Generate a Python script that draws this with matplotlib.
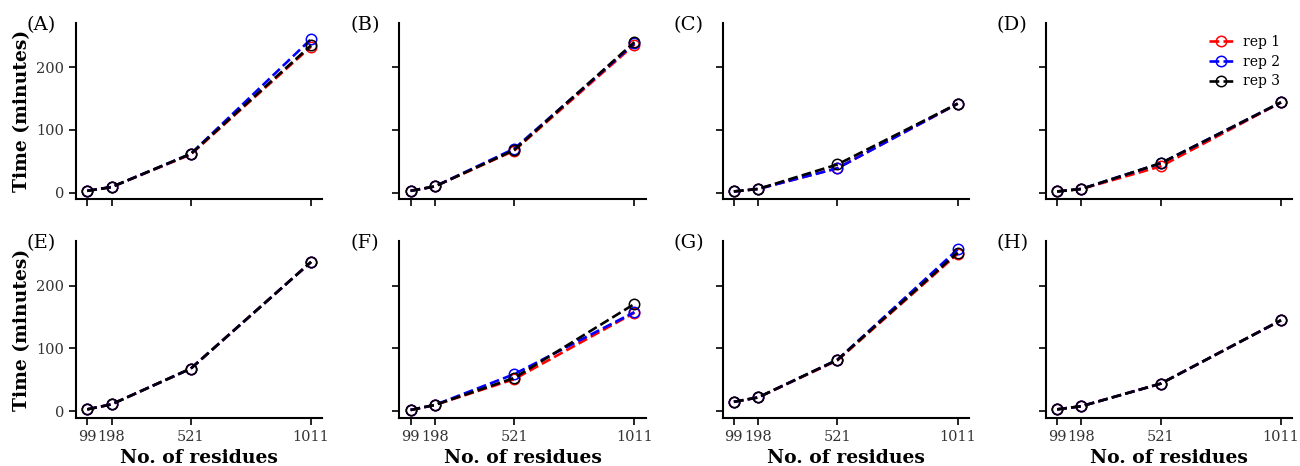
#!/usr/bin/env python3

import numpy as np
import matplotlib
matplotlib.use('Agg')
import matplotlib.pyplot as plt

# number of residues for each system
residues = [99, 198, 521, 1011]
tick_labels = ['99', '198', '521', '1011']

panels = ['(A)', '(B)', '(C)', '(D)', '(E)', '(F)', '(G)', '(H)']

# wall time in minutes, one list per panel, one row per replicate
rep1 = [
    [3, 9, 61, 233],
    [3, 10, 67, 236],
    [2, 6, 39, 142],
    [2, 6, 42, 144],
    [3, 11, 68, 238],
    [2, 10, 51, 157],
    [15, 22, 81, 251],
    [3, 8, 44, 145],
]
rep2 = [
    [3, 9, 62, 245],
    [3, 10, 70, 238],
    [2, 6, 39, 142],
    [2, 6, 47, 144],
    [3, 11, 68, 238],
    [2, 10, 59, 158],
    [15, 22, 82, 258],
    [3, 8, 44, 145],
]
rep3 = [
    [3, 9, 62, 235],
    [3, 10, 68, 240],
    [2, 6, 45, 142],
    [2, 6, 47, 144],
    [3, 11, 68, 238],
    [2, 10, 53, 171],
    [15, 22, 82, 253],
    [3, 8, 44, 145],
]

rep_names = ['rep 1', 'rep 2', 'rep 3']
rep_colors = ['red', 'blue', 'black']


def main():
    plt.rcParams['font.family'] = 'DejaVu Serif'
    fig, axes = plt.subplots(2, 4, figsize=(13, 4.66), dpi=100,
                             sharex=True, sharey=True)
    fig.subplots_adjust(left=0.0585, right=0.994, top=0.951, bottom=0.103,
                        wspace=0.313, hspace=0.237)

    for i, ax in enumerate(axes.flat):
        for reps, name, col in zip([rep1, rep2, rep3], rep_names, rep_colors):
            ax.plot(residues, reps[i], '--o', color=col, mfc='none',
                    markersize=7.5, markeredgewidth=1.1, linewidth=1.9,
                    label=name)

        ax.spines['top'].set_visible(False)
        ax.spines['right'].set_visible(False)
        ax.spines['left'].set_linewidth(1.5)
        ax.spines['bottom'].set_linewidth(1.5)
        ax.tick_params(width=1.2, length=5, labelsize=10.5, labelcolor='#333333')
        ax.set_xticks(residues)
        ax.set_xticklabels(tick_labels)
        ax.set_yticks([0, 100, 200])
        ax.text(-0.2, 0.99, panels[i], transform=ax.transAxes,
                fontsize=14, ha='left', va='center')

    for ax in axes[:, 0]:
        ax.set_ylabel('Time (minutes)', fontsize=13.5, fontweight='bold')
    for ax in axes[1, :]:
        ax.set_xlabel('No. of residues', fontsize=13.5, fontweight='bold')

    axes[0, 3].legend(loc='upper right', frameon=False, fontsize=10,
                      handlelength=1.7, handletextpad=0.7, labelspacing=0.4)

    fig.savefig('out.png')


if __name__ == '__main__':
    main()
